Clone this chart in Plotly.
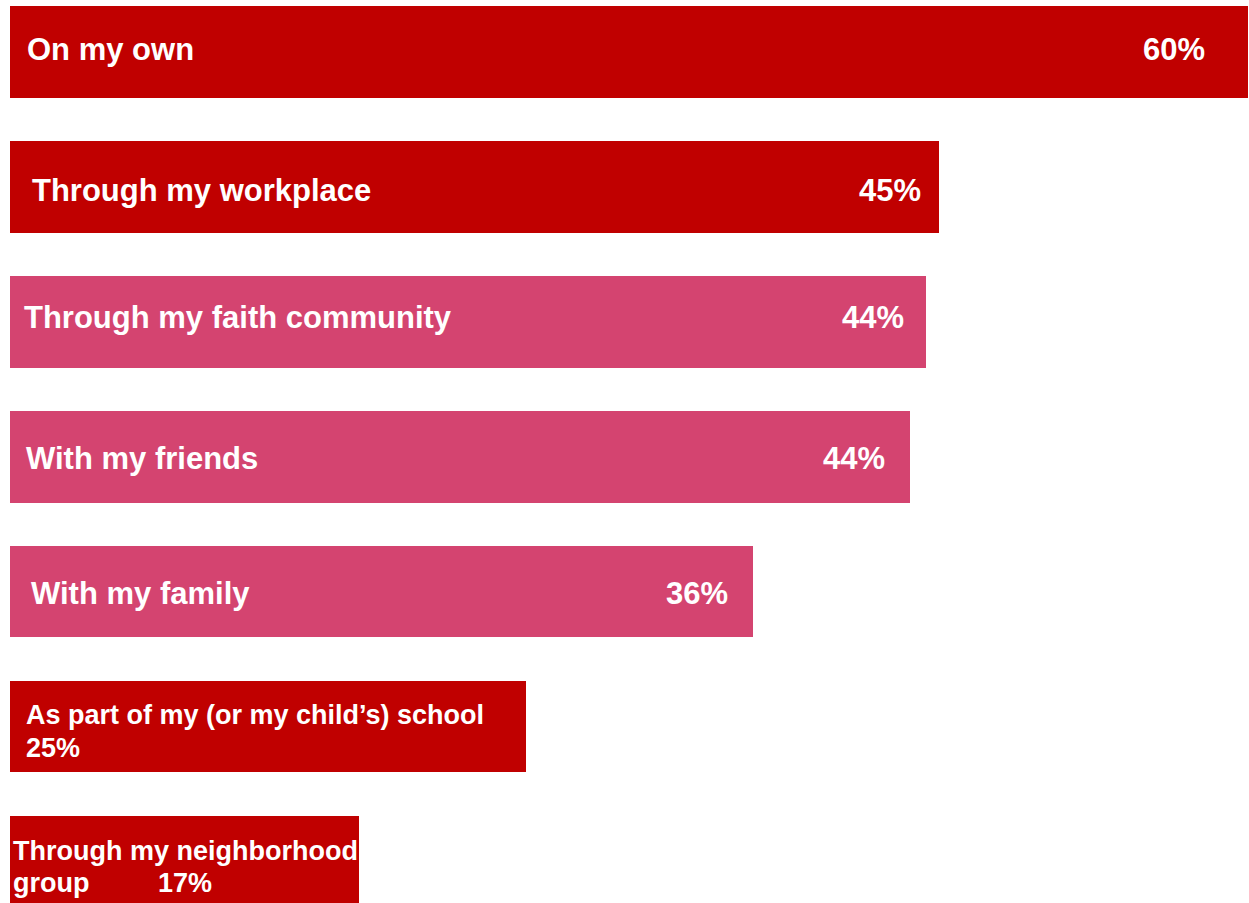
import plotly.graph_objects as go

# Data
categories = [
    "On my own",
    "Through my workplace",
    "Through my faith community",
    "With my friends",
    "With my family",
    "As part of my (or my child’s) school",
    "Through my neighborhood group",
]
values = [60, 45, 44.4, 43.6, 36, 25, 16.9]
value_labels = ["60%", "45%", "44%", "44%", "36%", "25%", "17%"]

RED = "#C00000"
PINK = "#D44470"
bar_colors = [RED, RED, PINK, PINK, PINK, RED, RED]

fig = go.Figure()

fig.add_trace(go.Bar(
    x=values,
    y=categories,
    orientation="h",
    width=0.68,
    marker=dict(color=bar_colors, line=dict(width=0)),
    hoverinfo="skip",
))

# label styling per bar (pixel offsets)
label_xshift = [15, 20, 12, 14, 19, 14, 1]
label_yshift = [2, -4, 4, -2, -2]
value_xshift = [-41, -16, -20, -23, -23]
FONT = "Liberation Sans, Arial, sans-serif"
font_big = dict(family=FONT, size=31, color="white")
font_small = dict(family=FONT, size=27, color="white")


def put(text, y, x=0, xanchor="left", xshift=0, yshift=0, font=font_big):
    fig.add_annotation(
        x=x, y=y, text=f"<b>{text}</b>", showarrow=False,
        xanchor=xanchor, yanchor="middle", xshift=xshift, yshift=yshift,
        font=font,
    )


for i, cat in enumerate(categories[:5]):
    put(cat, cat, xshift=label_xshift[i], yshift=label_yshift[i])
    put(value_labels[i], cat, x=values[i], xanchor="right",
        xshift=value_xshift[i], yshift=label_yshift[i])

# the two short bars wrap their text onto two lines
cat = categories[5]
put(cat, cat, xshift=label_xshift[5], yshift=11.5, font=font_small)
put(value_labels[5], cat, xshift=label_xshift[5], yshift=-21.5, font=font_small)

cat = categories[6]
first, second = cat.rsplit(" ", 1)
put(first, cat, xshift=label_xshift[6], yshift=10.5, font=font_small)
put(second, cat, xshift=label_xshift[6], yshift=-21.5, font=font_small)
put(value_labels[6], cat, xshift=146, yshift=-21.5, font=font_small)

fig.update_xaxes(range=[0, 60], visible=False, fixedrange=True)
fig.update_yaxes(
    type="category",
    categoryorder="array",
    categoryarray=categories,
    range=[6.308, -0.385],
    visible=False,
    fixedrange=True,
)

fig.update_layout(
    width=1249,
    height=903,
    margin=dict(l=10, r=1, t=0, b=0),
    plot_bgcolor="white",
    paper_bgcolor="white",
    showlegend=False,
    bargap=0,
)

# drop the browser's default 8px body margin so the figure fills the window
fig.write_html(
    "out.html",
    config={"displayModeBar": False},
    post_script="document.body.style.margin='0';document.body.style.overflow='hidden';",
)
